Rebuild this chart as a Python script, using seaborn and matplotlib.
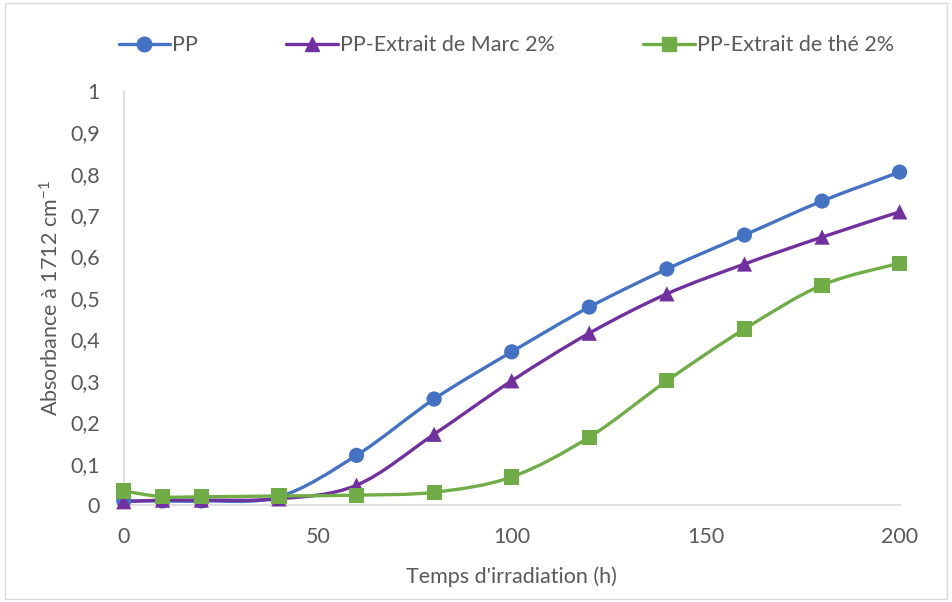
import numpy as np
import pandas as pd
import matplotlib.pyplot as plt
import seaborn as sns
from matplotlib.path import Path
from matplotlib.patches import PathPatch, Rectangle
from matplotlib.lines import Line2D
from matplotlib.ticker import FuncFormatter

# ---------------------------------------------------------------------------
# Data
# ---------------------------------------------------------------------------
temps = [0, 10, 20, 40, 60, 80, 100, 120, 140, 160, 180, 200]
pp = [0.010, 0.010, 0.010, 0.020, 0.120, 0.256, 0.370, 0.478, 0.570, 0.652, 0.734, 0.804]
pp_marc = [0.008, 0.012, 0.012, 0.015, 0.048, 0.171, 0.300, 0.415, 0.510, 0.582, 0.647, 0.708]
pp_the = [0.034, 0.020, 0.020, 0.022, 0.024, 0.031, 0.068, 0.164, 0.300, 0.425, 0.531, 0.584]

series = ["PP", "PP-Extrait de Marc 2%", "PP-Extrait de thé 2%"]
values = [pp, pp_marc, pp_the]
colors = ["#4472C4", "#7030A0", "#70AD47"]
markers = ["o", "^", "s"]

df = pd.DataFrame({
    "temps": temps * 3,
    "abs": pp + pp_marc + pp_the,
    "serie": sum([[s] * len(temps) for s in series], []),
})

# ---------------------------------------------------------------------------
# Style
# ---------------------------------------------------------------------------
sns.set_theme(style="white")
plt.rcParams["font.family"] = ["Lato", "DejaVu Sans"]
plt.rcParams["mathtext.fontset"] = "custom"
plt.rcParams["mathtext.rm"] = "Lato"
plt.rcParams["mathtext.it"] = "Lato"
TXT = "#595959"


def smooth_path(x, y):
    # Excel-style smoothed line: cubic Bezier through the points (Catmull-Rom)
    pts = np.column_stack([x, y]).astype(float)
    n = len(pts)
    verts = [pts[0]]
    codes = [Path.MOVETO]
    for i in range(n - 1):
        p0 = pts[max(i - 1, 0)]
        p1 = pts[i]
        p2 = pts[i + 1]
        p3 = pts[min(i + 2, n - 1)]
        c1 = p1 + (p2 - p0) / 6.0
        c2 = p2 - (p3 - p1) / 6.0
        verts += [c1, c2, p2]
        codes += [Path.CURVE4] * 3
    return Path(verts, codes)


fig = plt.figure(figsize=(9.52, 6.02), dpi=100)
ax = fig.add_axes([0.130, 0.161, 0.815, 0.688])

for s, v, c in zip(series, values, colors):
    ax.add_patch(PathPatch(smooth_path(temps, v), facecolor="none",
                           edgecolor=c, lw=2.4, clip_on=False, zorder=2))

sns.scatterplot(data=df, x="temps", y="abs", hue="serie", style="serie",
                palette=dict(zip(series, colors)),
                markers=dict(zip(series, markers)),
                s=120, edgecolor="none", legend=False, ax=ax,
                clip_on=False, zorder=3)

ax.set_xlim(0, 200)
ax.set_ylim(0, 1)
ax.set_xticks([0, 50, 100, 150, 200])
ax.set_yticks(np.arange(0, 1.01, 0.1))
ax.yaxis.set_major_formatter(FuncFormatter(
    lambda v, _: ("%g" % round(v, 1)).replace(".", ",")))
ax.tick_params(axis="both", colors=TXT, labelsize=15.5, length=0)
ax.tick_params(axis="x", pad=16)
ax.tick_params(axis="y", pad=17)

ax.set_xlabel("Temps d'irradiation (h)", color=TXT, fontsize=15.5, labelpad=14)
ax.set_ylabel("Absorbance à 1712 cm$^{-1}$", color=TXT, fontsize=15.5, labelpad=6)

for side in ["top", "right"]:
    ax.spines[side].set_visible(False)
for side in ["left", "bottom"]:
    ax.spines[side].set_color("#D9D9D9")
    ax.spines[side].set_linewidth(1.2)

handles = [Line2D([0], [0], color=c, lw=2.4, marker=m, markersize=10.5)
           for c, m in zip(colors, markers)]
leg = fig.legend(handles, series, loc="center", bbox_to_anchor=(0.532, 0.925),
                 ncol=3, frameon=False, fontsize=15.5, columnspacing=4.1,
                 handlelength=2.4, handletextpad=0.1)
for t in leg.get_texts():
    t.set_color(TXT)

fig.patches.append(Rectangle((0.005, 0.005), 0.99, 0.99, transform=fig.transFigure,
                             fill=False, edgecolor="#D9D9D9", lw=1))

fig.savefig("out.png", dpi=100)
